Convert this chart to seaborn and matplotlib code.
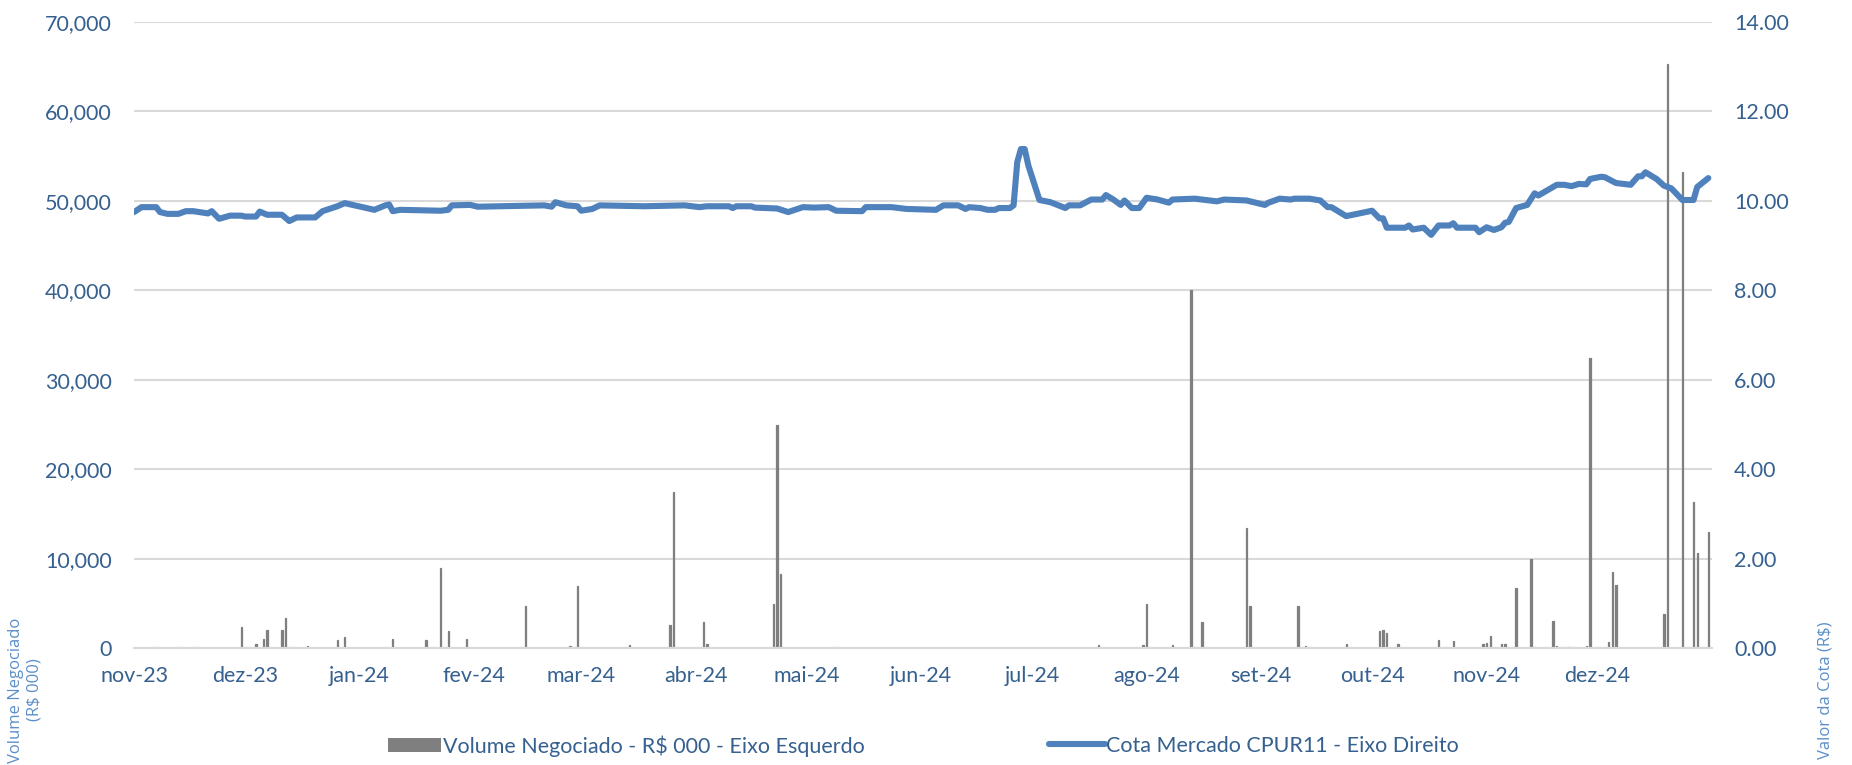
import pandas as pd
import numpy as np
import seaborn as sns
import matplotlib.pyplot as plt
from matplotlib.patches import Patch
from matplotlib.lines import Line2D
from matplotlib.ticker import FuncFormatter, MultipleLocator

sns.set_theme(style="white")
plt.rcParams["font.family"] = ["Lato", "DejaVu Sans"]

# cota de mercado (R$) - eixo direito
price_dates = ["2023-11-01", "2023-11-03", "2023-11-07", "2023-11-08", "2023-11-10", "2023-11-13",
               "2023-11-15", "2023-11-17", "2023-11-21", "2023-11-22", "2023-11-24", "2023-11-27",
               "2023-11-30", "2023-12-01", "2023-12-04", "2023-12-05", "2023-12-07", "2023-12-11",
               "2023-12-13", "2023-12-15", "2023-12-20", "2023-12-22", "2023-12-26", "2023-12-28",
               "2024-01-05", "2024-01-08", "2024-01-09", "2024-01-10", "2024-01-12", "2024-01-23",
               "2024-01-25", "2024-01-26", "2024-01-31", "2024-02-02", "2024-02-20", "2024-02-22",
               "2024-02-23", "2024-02-26", "2024-02-29", "2024-03-01", "2024-03-04", "2024-03-06",
               "2024-03-18", "2024-03-29", "2024-04-02", "2024-04-04", "2024-04-10", "2024-04-11",
               "2024-04-12", "2024-04-16", "2024-04-17", "2024-04-23", "2024-04-26", "2024-04-30",
               "2024-05-03", "2024-05-07", "2024-05-09", "2024-05-16", "2024-05-17", "2024-05-24",
               "2024-05-28", "2024-06-05", "2024-06-07", "2024-06-11", "2024-06-13", "2024-06-14",
               "2024-06-17", "2024-06-19", "2024-06-21", "2024-06-22", "2024-06-25", "2024-06-26",
               "2024-06-27", "2024-06-28", "2024-06-29", "2024-06-30", "2024-07-03", "2024-07-06",
               "2024-07-10", "2024-07-11", "2024-07-14", "2024-07-17", "2024-07-20", "2024-07-21",
               "2024-07-23", "2024-07-25", "2024-07-26", "2024-07-28", "2024-07-30", "2024-08-01",
               "2024-08-04", "2024-08-07", "2024-08-08", "2024-08-14", "2024-08-20", "2024-08-22",
               "2024-08-28", "2024-09-02", "2024-09-03", "2024-09-06", "2024-09-09", "2024-09-10",
               "2024-09-14", "2024-09-17", "2024-09-19", "2024-09-20", "2024-09-24", "2024-09-27",
               "2024-10-01", "2024-10-03", "2024-10-04", "2024-10-05", "2024-10-10", "2024-10-11",
               "2024-10-12", "2024-10-15", "2024-10-17", "2024-10-19", "2024-10-22", "2024-10-23",
               "2024-10-24", "2024-10-29", "2024-10-30", "2024-11-01", "2024-11-03", "2024-11-05",
               "2024-11-06", "2024-11-07", "2024-11-09", "2024-11-12", "2024-11-14", "2024-11-15",
               "2024-11-20", "2024-11-22", "2024-11-24", "2024-11-26", "2024-11-28", "2024-11-29",
               "2024-12-02", "2024-12-03", "2024-12-06", "2024-12-10", "2024-12-12", "2024-12-13",
               "2024-12-14", "2024-12-17", "2024-12-19", "2024-12-21", "2024-12-24", "2024-12-27",
               "2024-12-28", "2024-12-31"]
price_values = [9.75, 9.86, 9.86, 9.75, 9.71, 9.71,
                9.77, 9.77, 9.72, 9.77, 9.60, 9.67,
                9.67, 9.65, 9.65, 9.76, 9.69, 9.69,
                9.55, 9.63, 9.63, 9.77, 9.88, 9.95,
                9.80, 9.90, 9.92, 9.77, 9.80, 9.78,
                9.80, 9.90, 9.91, 9.87, 9.90, 9.87,
                9.97, 9.90, 9.88, 9.78, 9.82, 9.90,
                9.88, 9.90, 9.86, 9.88, 9.88, 9.84,
                9.88, 9.88, 9.85, 9.83, 9.75, 9.86,
                9.85, 9.86, 9.78, 9.77, 9.86, 9.86,
                9.82, 9.80, 9.90, 9.90, 9.82, 9.86,
                9.84, 9.80, 9.80, 9.84, 9.84, 9.90,
                10.87, 11.16, 11.16, 10.79, 10.02, 9.97,
                9.84, 9.90, 9.90, 10.03, 10.03, 10.13,
                10.03, 9.91, 10.01, 9.84, 9.84, 10.07,
                10.03, 9.96, 10.03, 10.05, 9.99, 10.03,
                10.01, 9.91, 9.96, 10.05, 10.03, 10.05,
                10.05, 10.01, 9.86, 9.86, 9.66, 9.71,
                9.78, 9.61, 9.61, 9.40, 9.40, 9.45,
                9.36, 9.40, 9.24, 9.45, 9.45, 9.50,
                9.40, 9.40, 9.30, 9.41, 9.35, 9.41,
                9.51, 9.53, 9.84, 9.91, 10.17, 10.12,
                10.36, 10.36, 10.33, 10.38, 10.37, 10.49,
                10.54, 10.53, 10.40, 10.36, 10.55, 10.55,
                10.64, 10.49, 10.34, 10.28, 10.02, 10.02,
                10.31, 10.51]

# volume negociado (R$ 000) - eixo esquerdo
volume_dates = ["2023-11-07", "2023-11-13", "2023-11-17", "2023-11-30", "2023-12-04", "2023-12-06",
                "2023-12-07", "2023-12-11", "2023-12-12", "2023-12-13", "2023-12-18", "2023-12-26",
                "2023-12-28", "2024-01-10", "2024-01-19", "2024-01-23", "2024-01-25", "2024-01-30",
                "2024-02-15", "2024-02-27", "2024-02-29", "2024-03-14", "2024-03-25", "2024-03-26",
                "2024-04-03", "2024-04-04", "2024-04-22", "2024-04-23", "2024-04-24", "2024-05-09",
                "2024-06-10", "2024-07-19", "2024-07-31", "2024-08-01", "2024-08-08", "2024-08-13",
                "2024-08-14", "2024-08-16", "2024-08-28", "2024-08-29", "2024-09-11", "2024-09-13",
                "2024-09-24", "2024-10-03", "2024-10-04", "2024-10-05", "2024-10-08", "2024-10-17",
                "2024-10-19", "2024-10-22", "2024-10-23", "2024-10-31", "2024-11-01", "2024-11-02",
                "2024-11-05", "2024-11-06", "2024-11-09", "2024-11-13", "2024-11-14", "2024-11-19",
                "2024-11-20", "2024-11-23", "2024-11-28", "2024-11-29", "2024-12-04", "2024-12-05",
                "2024-12-06", "2024-12-19", "2024-12-20", "2024-12-24", "2024-12-27", "2024-12-28",
                "2024-12-31"]
volume_values = [100, 150, 150, 2400, 500, 1000,
                 2000, 2000, 3400, 150, 260, 930,
                 1200, 1000, 950, 9000, 1950, 1050,
                 4750, 250, 6900, 350, 2550, 17500,
                 2950, 450, 4950, 24900, 8300, 100,
                 50, 300, 300, 4950, 300, 40000,
                 100, 2900, 13400, 4730, 4730, 260,
                 450, 1950, 2000, 1700, 450, 50,
                 900, 50, 820, 450, 600, 1300,
                 450, 450, 6750, 9950, 100, 3050,
                 260, 150, 260, 32400, 700, 8550,
                 7050, 3750, 65300, 53200, 16350, 10650,
                 12930]

month_ticks = ["2023-11-01", "2023-12-01", "2024-01-01", "2024-02-01", "2024-03-01", "2024-04-01",
               "2024-05-01", "2024-06-01", "2024-07-01", "2024-08-01", "2024-09-01", "2024-10-01",
               "2024-11-01", "2024-12-01"]
month_labels = ["nov-23", "dez-23", "jan-24", "fev-24", "mar-24", "abr-24", "mai-24", "jun-24",
                "jul-24", "ago-24", "set-24", "out-24", "nov-24", "dez-24"]

label_blue = "#35608F"
title_blue = "#5B8FC9"
line_blue = "#4F81BD"
bar_gray = "#7F7F7F"
grid_gray = "#D9D9D9"

fig, ax = plt.subplots(figsize=(18.52, 7.65), dpi=100)
fig.subplots_adjust(left=0.0724, right=0.9244, top=0.9712, bottom=0.1529)
ax2 = ax.twinx()

ax.bar(pd.to_datetime(volume_dates), volume_values, width=0.35, color=bar_gray,
       edgecolor=bar_gray, linewidth=0.9, zorder=2)
sns.lineplot(x=pd.to_datetime(price_dates), y=price_values, ax=ax2, color=line_blue,
             linewidth=4.4, solid_capstyle="round", solid_joinstyle="round")

ax.set_xlim(pd.Timestamp("2023-11-01"), pd.Timestamp("2025-01-01"))
ax.set_ylim(0, 70000)
ax2.set_ylim(0, 14)
ax.yaxis.set_major_locator(MultipleLocator(10000))
ax2.yaxis.set_major_locator(MultipleLocator(2))
ax.yaxis.set_major_formatter(FuncFormatter(lambda v, p: f"{v:,.0f}"))
ax2.yaxis.set_major_formatter(FuncFormatter(lambda v, p: f"{v:.2f}"))

ax.set_xticks(pd.to_datetime(month_ticks))
ax.set_xticklabels(month_labels)

ax.grid(axis="y", color=grid_gray, linewidth=1.5)
ax.set_axisbelow(True)
ax2.grid(False)
for a in (ax, ax2):
    for s in ("top", "left", "right"):
        a.spines[s].set_visible(False)
    a.spines["bottom"].set_color(grid_gray)
    a.spines["bottom"].set_linewidth(1.5)
    a.set_xlabel("")
    a.set_ylabel("")

ax.tick_params(axis="x", length=0, pad=13, labelsize=15.5, labelcolor=label_blue)
ax.tick_params(axis="y", length=0, pad=16, labelsize=15.5, labelcolor=label_blue)
ax2.tick_params(axis="y", length=0, pad=16, labelsize=15.5, labelcolor=label_blue)

fig.text(0.0135, 0.098, "Volume Negociado\n(R$ 000)", rotation=90, ha="center", va="center",
         fontsize=12, color=title_blue, family=["Open Sans", "DejaVu Sans"], linespacing=1.25)
fig.text(0.9855, 0.098, "Valor da Cota (R$)", rotation=90, ha="center", va="center",
         fontsize=12, color=title_blue, family=["Open Sans", "DejaVu Sans"])

leg_y = 1 - 746 / 765
fig.legend(handles=[Patch(facecolor=bar_gray, edgecolor="none")],
           labels=["Volume Negociado - R$ 000 - Eixo Esquerdo"],
           loc="center left", bbox_to_anchor=(388 / 1852, leg_y), frameon=False,
           borderpad=0, borderaxespad=0, handlelength=2.45, handleheight=0.62,
           handletextpad=0.1, fontsize=15.5, labelcolor=label_blue)
fig.legend(handles=[Line2D([], [], color=line_blue, linewidth=4.4, solid_capstyle="round")],
           labels=["Cota Mercado CPUR11 - Eixo Direito"],
           loc="center left", bbox_to_anchor=(1049 / 1852, leg_y), frameon=False,
           borderpad=0, borderaxespad=0, handlelength=2.6, handletextpad=0.05,
           fontsize=15.5, labelcolor=label_blue)

plt.savefig("out.png", dpi=100)
